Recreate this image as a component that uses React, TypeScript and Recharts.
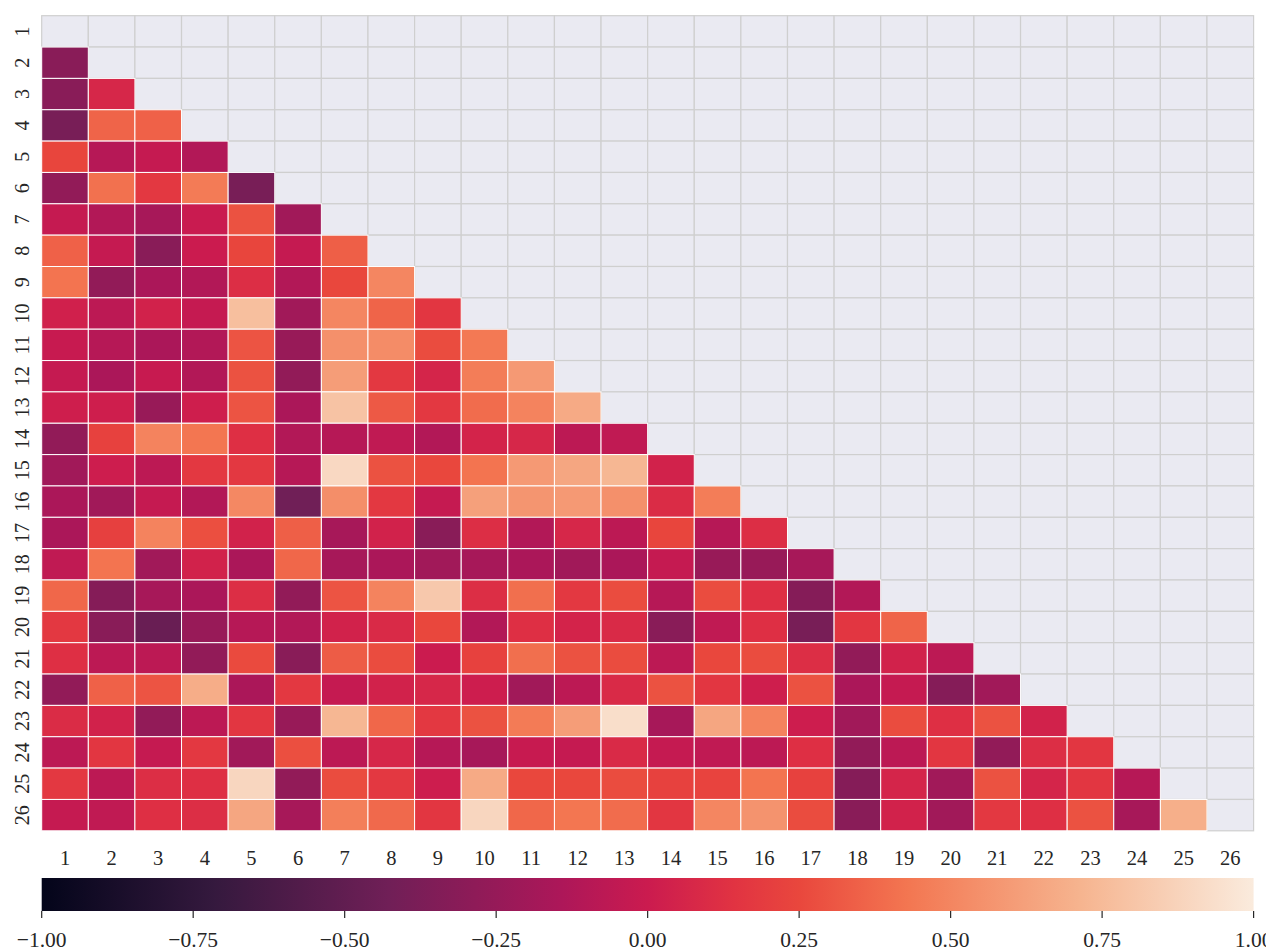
import React from 'react';
import { ScatterChart, Scatter, XAxis, YAxis, ReferenceArea } from 'recharts';

// ---- data ----
const axisLabels = ['1','2','3','4','5','6','7','8','9','10','11','12','13','14','15','16','17','18','19','20','21','22','23','24','25','26'];

const row02 = [-0.31];
const row03 = [-0.31, 0.07];
const row04 = [-0.39, 0.36, 0.35];
const row05 = [0.24, -0.1, -0.03, -0.12];
const row06 = [-0.27, 0.41, 0.17, 0.45, -0.39];
const row07 = [-0.03, -0.12, -0.17, -0.01, 0.29, -0.2];
const row08 = [0.35, -0.03, -0.31, 0.0, 0.24, -0.03, 0.34];
const row09 = [0.42, -0.27, -0.15, -0.12, 0.11, -0.12, 0.25, 0.5];
const row10 = [0.03, -0.07, 0.04, -0.03, 0.77, -0.2, 0.5, 0.36, 0.16];
const row11 = [-0.02, -0.1, -0.15, -0.12, 0.3, -0.24, 0.55, 0.53, 0.27, 0.44];
const row12 = [-0.03, -0.15, -0.02, -0.12, 0.29, -0.27, 0.61, 0.17, 0.06, 0.46, 0.59];
const row13 = [0.02, 0.02, -0.24, 0.02, 0.3, -0.15, 0.79, 0.32, 0.17, 0.39, 0.49, 0.67];
const row14 = [-0.27, 0.22, 0.49, 0.43, 0.12, -0.12, -0.1, -0.05, -0.12, 0.05, 0.07, -0.07, -0.05];
const row15 = [-0.2, 0.01, -0.07, 0.17, 0.17, -0.1, 0.9, 0.29, 0.25, 0.42, 0.59, 0.65, 0.73, 0.04];
const row16 = [-0.15, -0.2, -0.03, -0.12, 0.51, -0.43, 0.54, 0.17, -0.03, 0.62, 0.57, 0.59, 0.55, 0.1, 0.46];
const row17 = [-0.15, 0.21, 0.49, 0.28, 0.04, 0.34, -0.17, 0.04, -0.31, 0.11, -0.12, 0.07, -0.07, 0.24, -0.1, 0.11];
const row18 = [-0.05, 0.42, -0.2, 0.04, -0.15, 0.37, -0.17, -0.15, -0.2, -0.17, -0.15, -0.2, -0.15, -0.03, -0.24, -0.24, -0.17];
const row19 = [0.37, -0.33, -0.17, -0.15, 0.11, -0.27, 0.3, 0.49, 0.82, 0.11, 0.4, 0.17, 0.27, -0.1, 0.27, 0.12, -0.33, -0.12];
const row20 = [0.17, -0.31, -0.46, -0.24, -0.1, -0.12, 0.04, 0.09, 0.25, -0.12, 0.12, 0.05, 0.09, -0.31, -0.05, 0.12, -0.39, 0.16, 0.36];
const row21 = [0.12, -0.07, -0.07, -0.27, 0.26, -0.31, 0.33, 0.27, 0.0, 0.22, 0.4, 0.29, 0.27, -0.07, 0.25, 0.27, 0.11, -0.27, 0.04, -0.07];
const row22 = [-0.27, 0.35, 0.3, 0.68, -0.15, 0.17, -0.03, 0.04, 0.07, 0.01, -0.2, -0.07, 0.09, 0.29, 0.16, 0.02, 0.29, -0.15, -0.03, -0.33, -0.2];
const row23 = [0.1, 0.04, -0.27, -0.07, 0.16, -0.24, 0.73, 0.37, 0.17, 0.29, 0.45, 0.61, 0.93, -0.17, 0.65, 0.49, 0.01, -0.2, 0.27, 0.12, 0.29, 0.04];
const row24 = [-0.07, 0.16, -0.03, 0.17, -0.2, 0.28, -0.07, 0.07, -0.1, -0.17, -0.02, -0.03, 0.09, -0.03, -0.05, -0.07, 0.12, -0.27, -0.07, 0.16, -0.27, 0.11, 0.16];
const row25 = [0.17, -0.07, 0.11, 0.12, 0.89, -0.27, 0.27, 0.17, 0.01, 0.67, 0.25, 0.25, 0.27, 0.22, 0.23, 0.42, 0.22, -0.33, 0.06, -0.2, 0.29, 0.06, 0.16, -0.1];
const row26 = [-0.03, -0.05, 0.12, 0.11, 0.65, -0.17, 0.47, 0.38, 0.16, 0.89, 0.37, 0.43, 0.39, 0.16, 0.5, 0.56, 0.27, -0.31, 0.04, -0.2, 0.17, 0.12, 0.29, -0.17, 0.69];

const colorbarTicks = [-1, -0.75, -0.5, -0.25, 0, 0.25, 0.5, 0.75, 1];

const lowerRows = [row02, row03, row04, row05, row06, row07, row08, row09, row10, row11, row12, row13, row14, row15, row16, row17, row18, row19, row20, row21, row22, row23, row24, row25, row26];

// ---- styling / layout ----
const FONT = '"Liberation Serif", "DejaVu Serif", serif';
const TEXT = '#262626';
const N = axisLabels.length;
const W = 1266;
const H1 = 860;
const H2 = 82;
const M_LEFT = 33.7;
const M_RIGHT = 20.4;
const M_TOP = 7.7;
const PLOT_W = W - M_LEFT - M_RIGHT;
const PLOT_H = 815.1;
const CW = PLOT_W / N;
const CH = PLOT_H / N;
const CB_TOP = 10;
const CB_H = 33;

const ROCKET: [number, string][] = [
  [0, '#03051A'], [0.143, '#35193E'], [0.286, '#701F57'], [0.429, '#AD1759'],
  [0.5, '#CB1B4F'], [0.571, '#E13342'], [0.625, '#E9473D'], [0.714, '#F37651'],
  [0.857, '#F6B48F'], [1, '#FAEBDD'],
];

function hexToRgb(h: string) {
  return [parseInt(h.slice(1, 3), 16), parseInt(h.slice(3, 5), 16), parseInt(h.slice(5, 7), 16)];
}
function rocket(v: number) {
  const t = Math.max(0, Math.min(1, (v + 1) / 2));
  for (let i = 0; i < ROCKET.length - 1; i++) {
    const [t0, c0] = ROCKET[i];
    const [t1, c1] = ROCKET[i + 1];
    if (t <= t1) {
      const f = (t - t0) / (t1 - t0);
      const a = hexToRgb(c0), b = hexToRgb(c1);
      const r = a.map((x, k) => Math.round(x + (b[k] - x) * f));
      return `rgb(${r[0]},${r[1]},${r[2]})`;
    }
  }
  return ROCKET[ROCKET.length - 1][1];
}

const cells = lowerRows.flatMap((vals, i) => vals.map((v, j) => ({ x: j + 1, y: i + 2, v })));
const maskCells: { x: number; y: number }[] = [];
for (let r = 1; r <= N; r++) for (let c = r; c <= N; c++) maskCells.push({ x: c, y: r });

const positions = axisLabels.map((_, i) => i + 1);

const CellShape = (props: any) => {
  const { cx, cy, payload } = props;
  return <rect x={cx - CW / 2} y={cy - CH / 2} width={CW} height={CH} fill={rocket(payload.v)} stroke="#ffffff" strokeWidth={1} />;
};
const MaskShape = (props: any) => {
  const { cx, cy } = props;
  return <rect x={cx - CW / 2} y={cy - CH / 2} width={CW} height={CH} fill="#EAEAF2" stroke="#CFCFCF" strokeWidth={1.2} />;
};

const YTick = (props: any) => {
  const { x, y, payload } = props;
  const tx = x - 12;
  return (
    <text x={tx} y={y} transform={`rotate(-90 ${tx} ${y})`} textAnchor="middle" dominantBaseline="central" fontFamily={FONT} fontSize={20} fill={TEXT}>
      {axisLabels[payload.value - 1]}
    </text>
  );
};

const fmt = (v: number) => (v < 0 ? '\u2212' : '') + Math.abs(v).toFixed(2);

export default function App() {
  return (
    <div style={{ width: W, position: 'relative' }}>
      <style>{`html, body { overflow: hidden; } .recharts-surface { overflow: visible; }`}</style>
      <svg width={0} height={0} style={{ position: 'absolute' }}>
        <defs>
          <linearGradient id="rocketGrad" x1="0" y1="0" x2="1" y2="0">
            {ROCKET.map(([t, c]) => (
              <stop key={t} offset={t} stopColor={c} />
            ))}
          </linearGradient>
        </defs>
      </svg>
      <ScatterChart width={W} height={H1} margin={{ top: M_TOP, right: M_RIGHT, left: 0, bottom: 0 }}>
        <XAxis
          type="number"
          dataKey="x"
          domain={[0.5, N + 0.5]}
          ticks={positions}
          interval={0}
          tickLine={false}
          axisLine={false}
          tickMargin={14}
          height={H1 - M_TOP - PLOT_H}
          tickFormatter={(v: number) => axisLabels[v - 1]}
          tick={{ fontFamily: FONT, fontSize: 20.5, fill: TEXT }}
        />
        <YAxis
          type="number"
          dataKey="y"
          domain={[0.5, N + 0.5]}
          reversed
          ticks={positions}
          interval={0}
          tickLine={false}
          axisLine={false}
          width={M_LEFT}
          tick={<YTick />}
        />
        <Scatter data={maskCells} shape={<MaskShape />} isAnimationActive={false} />
        <Scatter data={cells} shape={<CellShape />} isAnimationActive={false} />
      </ScatterChart>
      <ScatterChart width={W} height={H2} margin={{ top: CB_TOP, right: M_RIGHT, left: M_LEFT, bottom: 0 }}>
        <XAxis
          type="number"
          dataKey="x"
          domain={[-1, 1]}
          ticks={colorbarTicks}
          interval={0}
          axisLine={false}
          tickSize={7}
          tickMargin={14}
          height={H2 - CB_TOP - CB_H}
          tickLine={{ stroke: TEXT, strokeWidth: 1.2 }}
          tickFormatter={fmt}
          tick={{ fontFamily: FONT, fontSize: 21.5, fill: TEXT }}
        />
        <YAxis type="number" dataKey="y" domain={[0, 1]} hide />
        <ReferenceArea x1={-1} x2={1} y1={0} y2={1} fill="url(#rocketGrad)" fillOpacity={1} stroke="none" ifOverflow="visible" />
        <Scatter data={[{ x: -1, y: 0 }, { x: 1, y: 1 }]} shape={() => <g />} isAnimationActive={false} />
      </ScatterChart>
    </div>
  );
}
